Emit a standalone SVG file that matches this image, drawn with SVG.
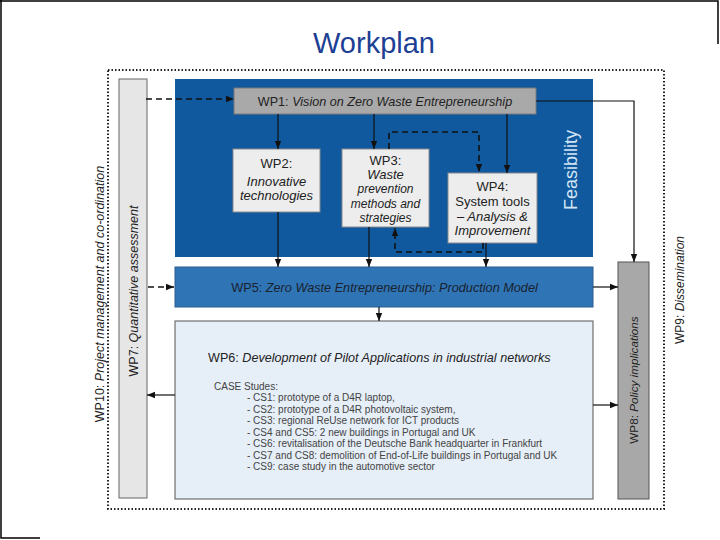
<svg xmlns="http://www.w3.org/2000/svg" width="720" height="540" viewBox="0 0 720 540">
<defs>
<style>
text{font-family:"Liberation Sans",Arial,sans-serif;fill:#222}
.i{font-style:italic}
.t{font-size:13px;text-anchor:middle}
.cs{font-size:10px;fill:#444}
.ln{fill:none;stroke:#111;stroke-width:1.2}
.dl{fill:none;stroke:#111;stroke-width:1.6;stroke-dasharray:6,4}
.wb{fill:#ededed;stroke:#8a8a8a;stroke-width:1}
</style>
<marker id="ah" viewBox="0 0 8 8" refX="8" refY="4" markerWidth="8" markerHeight="8" markerUnits="userSpaceOnUse" orient="auto">
<path d="M0,0.8 L8,4 L0,7.2 Z" fill="#111"/>
</marker>
</defs>
<rect width="720" height="540" fill="#fff"/>
<g id="frame" stroke="#000" stroke-width="1.5" fill="none">
<path d="M1,0 V538 H40"/>
<path d="M0,1 H718 V44"/>
</g>
<text x="374" y="53" style="font-size:29px;fill:#1d3f95;text-anchor:middle">Workplan</text>

<g id="wp10">
<rect x="108" y="70" width="556" height="439" fill="none" stroke="#222" stroke-width="2" stroke-dasharray="1.5,2"/>
<text transform="translate(104,294) rotate(-90)" style="font-size:12.5px;text-anchor:middle">WP10:  <tspan class="i">Project management and co-ordination</tspan></text>
</g>
<g id="wp7">
<rect x="119" y="79" width="28" height="419" fill="#e6e6e6" stroke="#666" stroke-width="1"/>
<text transform="translate(138,291) rotate(-90)" style="font-size:12.5px;text-anchor:middle">WP7: <tspan class="i">Quantitative assessment</tspan></text>
</g>
<g id="feasibility">
<rect x="175" y="79" width="418" height="178" fill="#10599e"/>
<text transform="translate(577,170) rotate(-90)" style="font-size:18px;fill:#d2e5f5;text-anchor:middle">Feasibility</text>
</g>
<g id="wp1">
<rect x="234" y="88" width="302" height="26" fill="#a9a9a9" stroke="#7a7a7a" stroke-width="1"/>
<text x="385" y="106" style="font-size:12.6px;text-anchor:middle">WP1: <tspan class="i">Vision on Zero Waste Entrepreneurship</tspan></text>
</g>
<g id="wp2">
<rect class="wb" x="233" y="149" width="87" height="63"/>
<text class="t" x="276.5" y="168">WP2:</text>
<text class="t i" x="276.5" y="186">Innovative</text>
<text class="t i" x="276.5" y="200">technologies</text>
</g>
<g id="wp3">
<rect class="wb" x="342" y="149" width="87" height="78"/>
<text class="t" x="385.5" y="165">WP3:</text>
<text class="t i" x="385.5" y="179">Waste</text>
<text class="t i" x="385.5" y="193" style="font-size:12px">prevention</text>
<text class="t i" x="385.5" y="208" style="font-size:12px">methods and</text>
<text class="t i" x="385.5" y="222" style="font-size:12px">strategies</text>
</g>
<g id="wp4">
<rect class="wb" x="448" y="173" width="89" height="70"/>
<text class="t" x="492.5" y="191">WP4:</text>
<text class="t" x="492.5" y="206">System tools</text>
<text class="t i" x="492.5" y="221">– Analysis &amp;</text>
<text class="t i" x="492.5" y="235">Improvement</text>
</g>
<g id="wp5">
<rect x="175" y="267" width="418" height="40" fill="#2f74b4" stroke="#2a5f92" stroke-width="1"/>
<text x="384.5" y="292" style="font-size:12.7px;text-anchor:middle;fill:#1a2230">WP5: <tspan class="i">Zero Waste Entrepreneurship: Production Model</tspan></text>
</g>
<g id="wp6">
<rect x="175" y="321" width="418" height="178" fill="#e6eef7" stroke="#555" stroke-width="1"/>
<text x="208" y="362" style="font-size:12.6px">WP6: <tspan class="i">Development of Pilot Applications in industrial networks</tspan></text>
<text class="cs" x="214" y="390">CASE Studes:</text>
<text class="cs" x="247" y="401">- CS1: prototype of a D4R laptop,</text>
<text class="cs" x="247" y="412.5">- CS2: prototype of a D4R photovoltaic system,</text>
<text class="cs" x="247" y="424">- CS3: regional ReUse network for ICT products</text>
<text class="cs" x="247" y="435.5">- CS4 and CS5: 2 new buildings in Portugal and UK</text>
<text class="cs" x="247" y="447">- CS6: revitalisation of the Deutsche Bank headquarter in Frankfurt</text>
<text class="cs" x="247" y="458.5">- CS7 and CS8: demolition of End-of-Life buildings in Portugal and UK</text>
<text class="cs" x="247" y="470">- CS9: case study in the automotive sector</text>
</g>
<g id="wp8">
<rect x="618" y="262" width="31" height="237" fill="#a8a8a8" stroke="#555" stroke-width="1"/>
<text transform="translate(638,380) rotate(-90)" style="font-size:11.7px;text-anchor:middle">WP8: <tspan class="i">Policy implications</tspan></text>
</g>
<g id="wp9">
<text transform="translate(684,290) rotate(-90)" style="font-size:12px;text-anchor:middle">WP9: <tspan class="i">Dissemination</tspan></text>
</g>

<g id="connectors">
<path class="ln" d="M278,114 V149" marker-end="url(#ah)"/>
<path class="ln" d="M374,114 V149" marker-end="url(#ah)"/>
<path class="ln" d="M507,114 V173" marker-end="url(#ah)"/>
<path class="dl" d="M389,149 V132 H479 V172" marker-end="url(#ah)"/>
<path class="dl" d="M483,243 V252 H395 V228" marker-end="url(#ah)"/>
<path class="dl" d="M146,99 H234" marker-end="url(#ah)"/>
<path class="dl" d="M148,287 H174" marker-end="url(#ah)"/>
<path class="ln" d="M278,212 V267" marker-end="url(#ah)"/>
<path class="ln" d="M369,227 V267" marker-end="url(#ah)"/>
<path class="ln" d="M486,243 V267" marker-end="url(#ah)"/>
<path class="ln" d="M379,307 V321" marker-end="url(#ah)"/>
<path class="ln" d="M175,395 H147" marker-end="url(#ah)"/>
<path class="ln" d="M593,405 H618" marker-end="url(#ah)"/>
<path class="ln" d="M593,287 H618" marker-end="url(#ah)"/>
<path class="ln" d="M536,101 H634 V262" marker-end="url(#ah)"/>
</g>
</svg>
